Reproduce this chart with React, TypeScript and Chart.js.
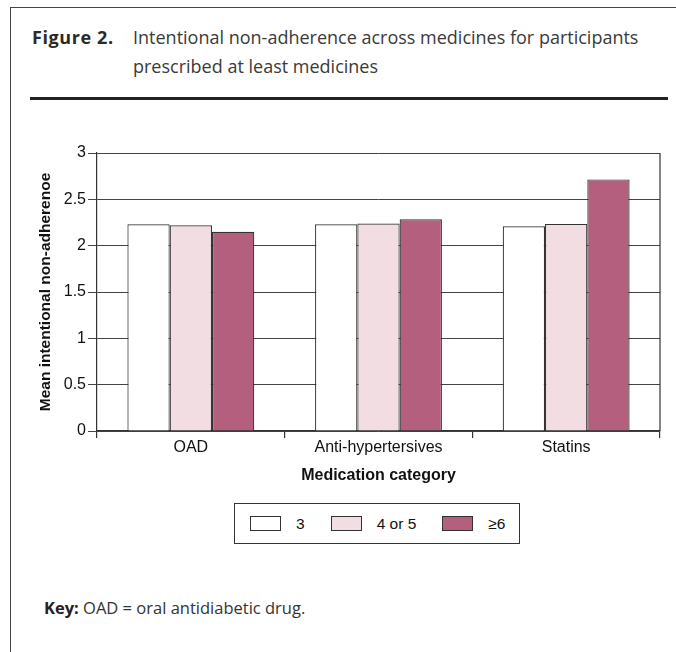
import React, { useEffect, useRef } from "react";
import { Chart, registerables } from "chart.js";

Chart.register(...registerables);

const categories = ["OAD", "Anti-hypertersives", "Statins"];
const seriesLabels = ["3", "4 or 5", "≥6"];
const seriesThree = [2.23, 2.23, 2.21];
const seriesFourFive = [2.22, 2.24, 2.235];
const seriesSixPlus = [2.15, 2.285, 2.715];
const seriesColors = ["#ffffff", "#f2dde3", "#b45f7e"];
const yTitle = "Mean intentional non-adherenoe";
const xTitle = "Medication category";
const figureLabel = "Figure 2.";
const figureTitle = "Intentional non-adherence across medicines for participants prescribed at least medicines";
const keyLabel = "Key:";
const keyText = "OAD = oral antidiabetic drug.";

const AXIS_FONT = "Arial, 'Liberation Sans', Helvetica, sans-serif";
const TEXT_FONT = "'Open Sans', 'Noto Sans', sans-serif";

const frameBorder = {
  id: "frameBorder",
  afterDatasetsDraw(chart: any) {
    const { ctx, chartArea } = chart;
    ctx.save();
    ctx.strokeStyle = "#333";
    ctx.lineWidth = 1.2;
    ctx.beginPath();
    ctx.moveTo(chartArea.right, chartArea.top);
    ctx.lineTo(chartArea.right, chartArea.bottom);
    ctx.stroke();
    ctx.restore();
  },
};

function BarChart() {
  const ref = useRef<HTMLCanvasElement | null>(null);
  useEffect(() => {
    if (!ref.current) return;
    const seriesValues = [seriesThree, seriesFourFive, seriesSixPlus];
    const chart = new Chart(ref.current, {
      type: "bar",
      data: {
        labels: categories,
        datasets: seriesValues.map((vals, i) => ({
          label: seriesLabels[i],
          data: vals,
          backgroundColor: seriesColors[i],
          borderColor: "#333",
          borderWidth: 1.2,
          barPercentage: 1,
          categoryPercentage: 0.676,
        })),
      },
      options: {
        animation: false,
        responsive: false,
        maintainAspectRatio: false,
        devicePixelRatio: 1,
        layout: { padding: { top: 23, right: 16, left: 0, bottom: 0 } },
        plugins: { legend: { display: false }, tooltip: { enabled: false } },
        scales: {
          x: {
            grid: {
              offset: true,
              drawOnChartArea: false,
              drawTicks: true,
              tickLength: 7,
              color: "#333",
              lineWidth: 1.2,
            },
            border: { display: true, color: "#333", width: 1.2 },
            ticks: {
              color: "#111",
              font: { family: AXIS_FONT, size: 16 },
              padding: 0,
            },
            title: {
              display: true,
              text: xTitle,
              color: "#111",
              font: { family: AXIS_FONT, size: 16, weight: "bold" },
              padding: { top: 0, bottom: 5 },
            },
            afterFit(scale: any) {
              scale.height = 59;
            },
          },
          y: {
            min: 0,
            max: 3,
            ticks: {
              stepSize: 0.5,
              color: "#111",
              font: { family: AXIS_FONT, size: 16 },
              padding: 2,
              callback: (v: any) => String(Number(v)),
            },
            grid: {
              color: "#444",
              lineWidth: 1,
              tickLength: 9,
              drawTicks: true,
            },
            border: { display: true, color: "#333", width: 1.2 },
            title: {
              display: true,
              text: yTitle,
              color: "#111",
              font: { family: AXIS_FONT, size: 15.5, weight: "bold" },
              padding: { top: 36, bottom: 0 },
            },
            afterFit(scale: any) {
              scale.width = 97;
            },
          },
        },
      },
      plugins: [frameBorder],
    });
    return () => chart.destroy();
  }, []);
  return (
    <canvas
      ref={ref}
      width={676}
      height={360}
      style={{ position: "absolute", left: 0, top: 130, width: 676, height: 360 }}
    />
  );
}

function Legend() {
  return (
    <div
      style={{
        position: "absolute",
        left: 234,
        top: 503,
        width: 286,
        height: 41,
        border: "1.2px solid #333",
        fontFamily: AXIS_FONT,
        fontSize: 15.5,
        color: "#111",
        display: "flex",
        alignItems: "center",
        paddingLeft: 15,
        boxSizing: "border-box",
        gap: 26,
      }}
    >
      {seriesLabels.map((lab, i) => (
        <div key={lab} style={{ display: "flex", alignItems: "center" }}>
          <div
            style={{
              width: 29,
              height: 13,
              background: seriesColors[i],
              border: "1.2px solid #333",
              marginRight: 15,
            }}
          />
          <span style={{ whiteSpace: "nowrap", lineHeight: "20px" }}>{lab}</span>
        </div>
      ))}
    </div>
  );
}

export default function App() {
  return (
    <div
      style={{
        position: "absolute",
        left: 0,
        top: 0,
        width: 676,
        height: 652,
        overflow: "hidden",
        background: "#fff",
      }}
    >
      <div
        style={{
          position: "absolute",
          left: 10,
          top: 7,
          width: 800,
          height: 800,
          borderTop: "1.5px solid #444",
          borderLeft: "1.5px solid #444",
        }}
      />
      <div
        style={{
          position: "absolute",
          left: 32,
          top: 23,
          fontFamily: TEXT_FONT,
          fontWeight: 700,
          fontSize: 18,
          letterSpacing: 0.6,
          lineHeight: "29px",
          color: "#2a2a2a",
        }}
      >
        {figureLabel}
      </div>
      <div
        style={{
          position: "absolute",
          left: 133,
          top: 23,
          width: 530,
          fontFamily: TEXT_FONT,
          fontSize: 18,
          lineHeight: "29px",
          color: "#3a3a3a",
        }}
      >
        {figureTitle}
      </div>
      <div
        style={{
          position: "absolute",
          left: 30,
          top: 97,
          width: 638,
          height: 3,
          background: "#222",
        }}
      />
      <BarChart />
      <Legend />
      <div
        style={{
          position: "absolute",
          left: 44,
          top: 596,
          fontFamily: TEXT_FONT,
          fontSize: 16.5,
          lineHeight: "24px",
          color: "#333",
          whiteSpace: "nowrap",
        }}
      >
        <b style={{ color: "#222" }}>{keyLabel}</b> {keyText}
      </div>
    </div>
  );
}
